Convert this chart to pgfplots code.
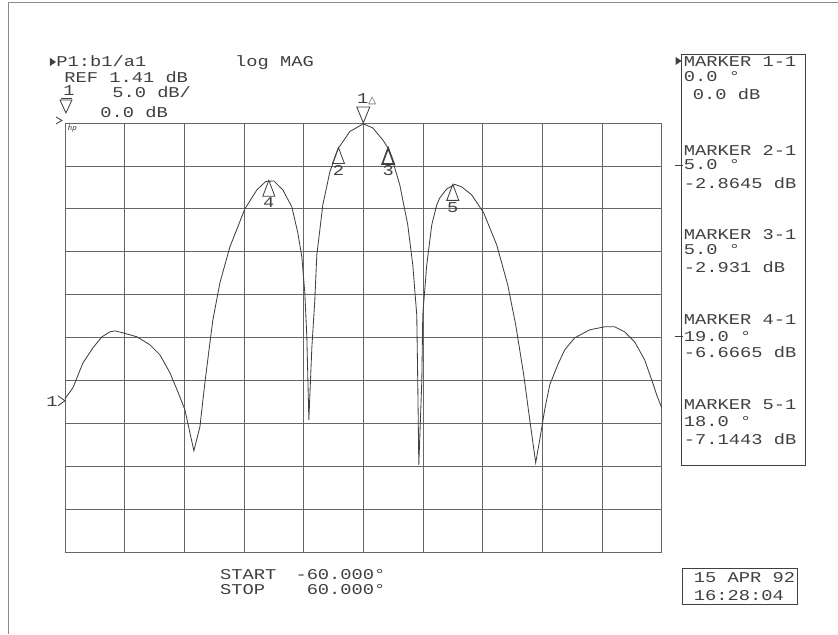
\documentclass[border=0pt]{standalone}
\usepackage{pgfplots}
\pgfplotsset{compat=1.18}
\usepackage{fontspec}
\newfontfamily\hp[FakeStretch=1.25]{Liberation Mono}
\newfontfamily\djv{DejaVu Sans}
\definecolor{ink}{gray}{0.25}
\pgfdeclareplotmark{mup}{%
  \pgfpathmoveto{\pgfpoint{0pt}{0pt}}%
  \pgfpathlineto{\pgfpoint{-3.6pt}{-9.6pt}}%
  \pgfpathlineto{\pgfpoint{3.6pt}{-9.6pt}}%
  \pgfpathclose\pgfusepathqstroke}
\pgfdeclareplotmark{mupb}{%
  \pgfpathmoveto{\pgfpoint{0pt}{0pt}}%
  \pgfpathlineto{\pgfpoint{-3.6pt}{-9.6pt}}%
  \pgfpathlineto{\pgfpoint{3.6pt}{-9.6pt}}%
  \pgfpathclose\pgfusepathqstroke
  \pgfsetlinewidth{1pt}%
  \pgfpathmoveto{\pgfpoint{-3.9pt}{-9.6pt}}%
  \pgfpathlineto{\pgfpoint{3.9pt}{-9.6pt}}%
  \pgfusepathqstroke}
\pgfdeclareplotmark{mdown}{%
  \pgfpathmoveto{\pgfpoint{0pt}{0pt}}%
  \pgfpathlineto{\pgfpoint{-3.9pt}{9.6pt}}%
  \pgfpathlineto{\pgfpoint{3.9pt}{9.6pt}}%
  \pgfpathclose\pgfusepathqstroke}
\begin{document}
\begin{tikzpicture}
\begin{scope}[x=0.6pt,y=-0.6pt]
\fill[white] (0,0) rectangle (838,634);
\draw[black!45,line width=0.5pt] (8,634) -- (8,2) -- (838,2);
\end{scope}
\begin{axis}[at={(39pt,-331.8pt)}, anchor=south west, scale only axis,
  width=358.2pt, height=258pt,
  xmin=-60, xmax=60, ymin=-50, ymax=0,
  xtick={-60,-48,-36,-24,-12,0,12,24,36,48,60},
  ytick={-50,-45,-40,-35,-30,-25,-20,-15,-10,-5,0},
  xticklabels={}, yticklabels={}, major tick length=0pt,
  grid=major, grid style={black!60, line width=0.5pt},
  axis line style={black!60, line width=0.5pt}, clip=false]
\addplot[ink, line width=0.5pt] coordinates {
(-60.00,-32.09) (-58.39,-30.81) (-56.38,-27.91) (-54.37,-26.16) (-52.56,-24.88)
(-50.95,-24.30) (-49.95,-24.19) (-48.34,-24.42) (-45.53,-24.88) (-42.91,-25.81)
(-40.90,-26.98) (-38.89,-29.07) (-37.29,-31.28) (-35.88,-33.37) (-34.87,-36.05)
(-34.07,-38.14) (-32.86,-35.35) (-31.86,-30.23) (-30.85,-25.58) (-30.25,-22.91)
(-28.84,-18.60) (-26.83,-14.42) (-23.82,-10.00) (-21.41,-7.79) (-19.60,-6.80)
(-18.00,-6.75) (-16.18,-7.79) (-14.37,-9.77) (-13.17,-12.79) (-12.36,-15.58)
(-11.76,-19.77) (-11.36,-24.88) (-11.16,-29.53) (-10.95,-34.53) (-10.35,-26.16)
(-9.75,-20.58) (-9.35,-15.35) (-8.74,-12.44) (-8.14,-9.53) (-6.73,-5.70)
(-5.00,-2.90) (-4.72,-2.70) (-2.71,-1.00) (0.00,-0.10) (1.91,-0.58) (3.92,-1.98)
(5.00,-2.95) (5.73,-4.07) (7.34,-7.21) (8.94,-11.86) (9.95,-16.51) (10.75,-22.33)
(10.95,-30.12) (11.16,-39.77) (11.76,-30.12) (11.96,-22.33) (12.76,-16.51)
(13.77,-11.86) (14.77,-9.53) (15.38,-8.72) (16.78,-7.67) (18.39,-7.15)
(19.80,-7.44) (21.81,-8.37) (24.22,-10.47) (26.83,-14.19) (29.05,-18.84)
(30.65,-23.49) (32.26,-29.30) (33.47,-34.53) (34.67,-39.53) (35.48,-36.86)
(36.48,-33.37) (37.49,-30.47) (39.10,-28.14) (40.50,-26.40) (42.51,-25.00)
(45.53,-24.07) (48.54,-23.72) (50.55,-23.72) (52.56,-24.30) (54.57,-25.47)
(56.58,-27.56) (57.99,-29.88) (59.00,-31.63) (60.00,-33.14)
};
\addplot[only marks, mark=mupb, ink, line width=0.5pt] coordinates {
(-5,-2.8645) (5,-2.931)};
\addplot[only marks, mark=mup, ink, line width=0.5pt] coordinates {
(-19,-6.6665) (18,-7.1443)};
\addplot[only marks, mark=mdown, ink, line width=0.5pt] coordinates {(0,0)};
\node[font=\hp\fontsize{9}{9}\selectfont, text=ink, anchor=north, inner sep=0pt] at ([yshift=-10.5pt]axis cs:-5,-2.8645) {2};
\node[font=\hp\fontsize{9}{9}\selectfont, text=ink, anchor=north, inner sep=0pt] at ([yshift=-10.5pt]axis cs:5,-2.931) {3};
\node[font=\hp\fontsize{9}{9}\selectfont, text=ink, anchor=north, inner sep=0pt] at ([yshift=-10.5pt]axis cs:-19,-6.6665) {4};
\node[font=\hp\fontsize{9}{9}\selectfont, text=ink, anchor=north, inner sep=0pt] at ([yshift=-10.5pt]axis cs:18,-7.1443) {5};
\node[font=\hp\fontsize{9}{9}\selectfont, text=ink, anchor=south, inner sep=0pt] at ([xshift=2pt,yshift=10.8pt]axis cs:0,0) {1{\djv\fontsize{6}{6}\selectfont △}};
\end{axis}
\begin{scope}[x=0.6pt,y=-0.6pt, every node/.style={font=\hp\fontsize{9}{9}\selectfont, text=ink, anchor=base west, inner sep=0pt}]
% header
\fill[ink] (50,58) -- (56,62) -- (50,66) -- cycle;
\node at (56,67) {P1:b1/a1};
\node at (235,67) {log MAG};
\node at (64,83) {REF 1.41 dB};
\node at (63,96) {1};
\draw[ink,line width=0.5pt] (61,98) -- (72,98);
\node at (112,98) {5.0 dB/};
\draw[ink,line width=0.5pt] (60,100) -- (72,100) -- (66,113) -- cycle;
\node at (100,118) {0.0 dB};
\draw[ink,line width=0.5pt] (56,117) -- (62,120.5) -- (56,124);
\node[font=\sffamily\itshape\fontsize{5}{5}\selectfont] at (67,131) {hp};
% left reference
\node at (46,407) {1};
\draw[ink,line width=0.5pt] (58,396) -- (65,401) -- (58,406);
% marker panel
\draw[ink,line width=0.5pt] (682,54) rectangle (806,466);
\fill[ink] (676,57) -- (682,61) -- (676,65) -- cycle;
\node at (684,67) {MARKER 1-1};
\node at (684,82) {0.0 °};
\node at (693,100) {0.0 dB};
\node at (684,156) {MARKER 2-1};
\draw[ink,line width=0.5pt] (675,165.5) -- (683,165.5);
\node at (684,170) {5.0 °};
\node at (684,189) {-2.8645 dB};
\node at (684,240) {MARKER 3-1};
\node at (684,255) {5.0 °};
\node at (684,273) {-2.931 dB};
\node at (684,325) {MARKER 4-1};
\draw[ink,line width=0.5pt] (675,336.5) -- (683,336.5);
\node at (684,342) {19.0 °};
\node at (684,358) {-6.6665 dB};
\node at (684,410) {MARKER 5-1};
\node at (684,427) {18.0 °};
\node at (684,445) {-7.1443 dB};
% bottom
\node at (220,580) {START};
\node at (220,595) {STOP};
\node[anchor=base east] at (386,580) {-60.000°};
\node[anchor=base east] at (386,595) {60.000°};
\draw[ink,line width=0.5pt] (683,569) rectangle (798,605);
\node at (694,583) {15 APR 92};
\node at (694,601) {16:28:04};
\end{scope}
\end{tikzpicture}
\end{document}
